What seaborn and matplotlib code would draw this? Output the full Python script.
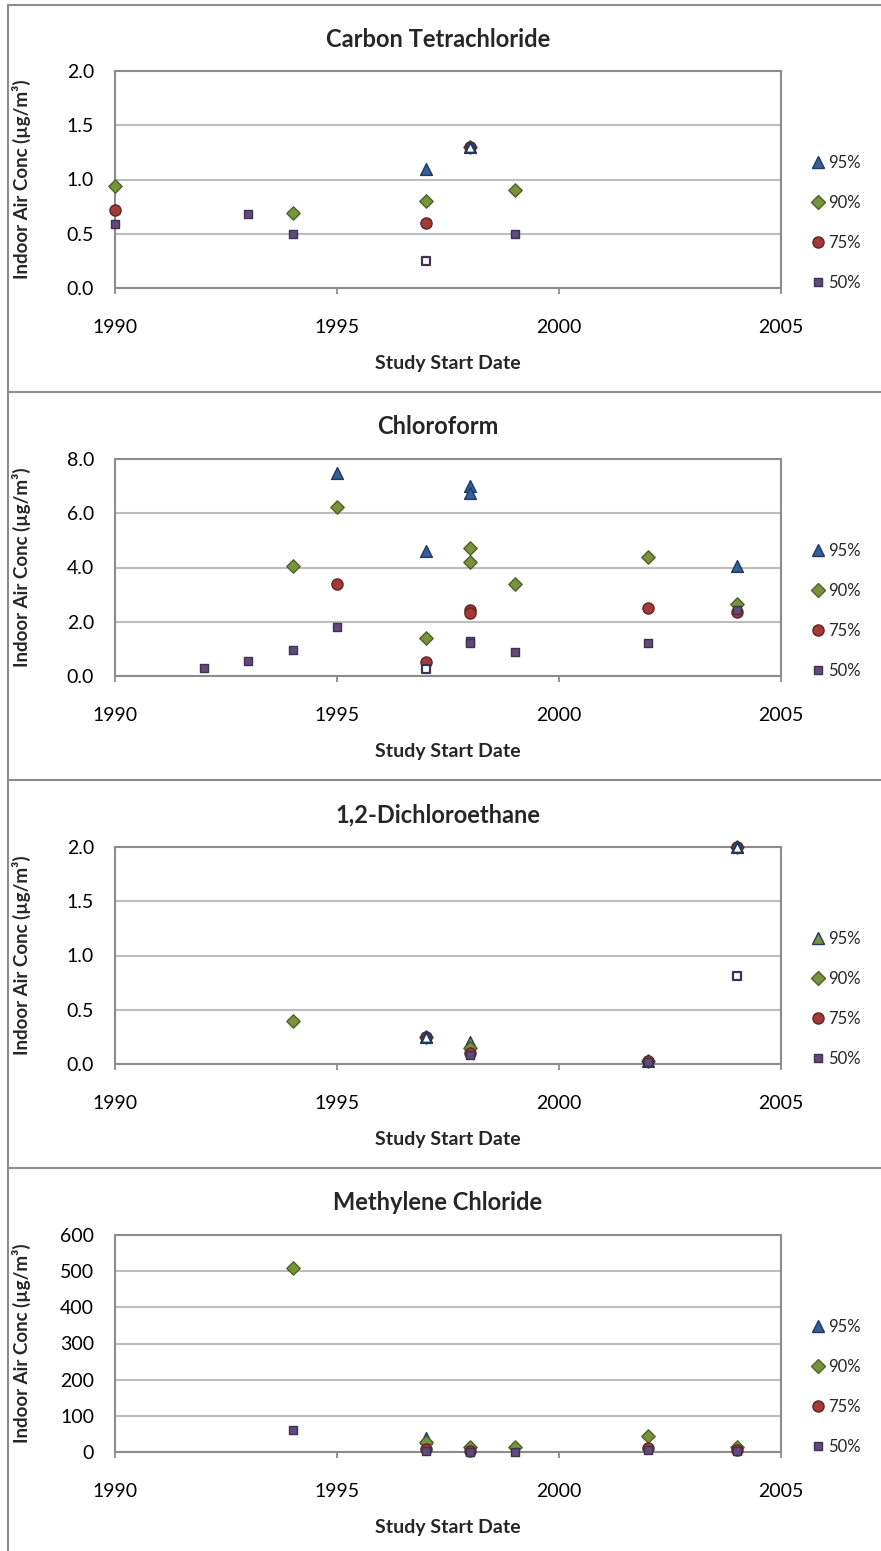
import numpy as np
import pandas as pd
import matplotlib
matplotlib.use('Agg')
import matplotlib.pyplot as plt
from matplotlib.lines import Line2D
import seaborn as sns

nan = np.nan

# Carbon Tetrachloride
ct_years = [1990, 1993, 1994, 1997, 1998, 1999]
ct_p95 = [nan, nan, nan, 1.10, 1.30, nan]
ct_p90 = [0.94, nan, 0.69, 0.80, 1.30, 0.90]
ct_p75 = [0.72, nan, nan, 0.60, 1.30, nan]
ct_p50 = [0.59, 0.68, 0.50, nan, 1.30, 0.50]
ct_open_tri = ([1998], [1.30])
ct_open_sq = ([1997], [0.25])

# Chloroform
cf_years = [1992, 1993, 1994, 1995, 1997, 1998, 1998, 1999, 2002, 2004]
cf_p95 = [nan, nan, nan, 7.50, 4.60, 7.02, 6.76, nan, nan, 4.05]
cf_p90 = [nan, nan, 4.04, 6.22, 1.41, 4.72, 4.19, 3.40, 4.40, 2.64]
cf_p75 = [nan, nan, nan, 3.40, 0.53, 2.43, 2.31, nan, 2.50, 2.37]
cf_p50 = [0.28, 0.54, 0.96, 1.82, nan, 1.30, 1.21, 0.90, 1.20, 2.43]
cf_open_tri = ([], [])
cf_open_sq = ([1997], [0.26])

# 1,2-Dichloroethane
dc_years = [1994, 1997, 1998, 2002, 2004]
dc_p95 = [nan, 0.25, 0.20, 0.03, 2.00]
dc_p90 = [0.40, 0.25, 0.15, 0.03, 2.00]
dc_p75 = [nan, 0.25, 0.10, 0.03, 2.00]
dc_p50 = [nan, 0.25, 0.08, 0.02, 2.00]
dc_open_tri = ([1997, 2004], [0.25, 2.00])
dc_open_sq = ([2004], [0.81])

# Methylene Chloride
mc_years = [1994, 1997, 1998, 1999, 2002, 2004]
mc_p95 = [nan, 38, nan, nan, nan, nan]
mc_p90 = [510, 28, 14, 14, 44, 14]
mc_p75 = [nan, 9, 3, nan, 12, 5]
mc_p50 = [60, 3, 1, 1, 5, 3]
mc_open_tri = ([], [])
mc_open_sq = ([], [])

pct_labels = ['95%', '90%', '75%', '50%']

panels = [
    ('Carbon Tetrachloride', ct_years, [ct_p95, ct_p90, ct_p75, ct_p50], ct_open_tri, ct_open_sq, 2.0, 0.5, '%.1f'),
    ('Chloroform', cf_years, [cf_p95, cf_p90, cf_p75, cf_p50], cf_open_tri, cf_open_sq, 8.0, 2.0, '%.1f'),
    ('1,2-Dichloroethane', dc_years, [dc_p95, dc_p90, dc_p75, dc_p50], dc_open_tri, dc_open_sq, 2.0, 0.5, '%.1f'),
    ('Methylene Chloride', mc_years, [mc_p95, mc_p90, mc_p75, mc_p50], mc_open_tri, mc_open_sq, 600, 100, '%d'),
]

# marker styles per percentile: marker, size(pt), face, edge
styles = [
    ('^', 8.5, '#33609A', '#1F3A60'),
    ('D', 6.8, '#77933C', '#4F6228'),
    ('o', 8.0, '#A33A36', '#632523'),
    ('s', 6.3, '#604A7B', '#3F3151'),
]

sns.set_style('white')
plt.rcParams['font.family'] = ['Lato', 'DejaVu Sans']

W, H = 881, 1551
fig = plt.figure(figsize=(W / 100, H / 100), dpi=100)

GRID = '#BDBDBD'
FRAME = '#8C8C8C'

for i, (title, years, series, open_tri, open_sq, ymax, ystep, fmt) in enumerate(panels):
    top = 71 + 388 * i
    ax = fig.add_axes([115 / W, 1 - (top + 217) / H, 666 / W, 217 / H])

    handles = []
    for j, vals in enumerate(series):
        marker, ms, face, edge = styles[j]
        if i == 2 and j == 0:
            face = '#77933C'
        df = pd.DataFrame({'year': years, 'value': vals}).dropna()
        sns.scatterplot(data=df, x='year', y='value', marker=marker, s=ms ** 2,
                        color=face, edgecolor=edge, linewidth=1.0, ax=ax,
                        clip_on=False, zorder=3 + j, legend=False)
        handles.append(Line2D([], [], linestyle='none', marker=marker, markersize=ms,
                              markerfacecolor=face, markeredgecolor=edge, markeredgewidth=1.0))

    if open_tri[0]:
        sns.scatterplot(x=open_tri[0], y=open_tri[1], marker='^', s=7.5 ** 2, color='white',
                        edgecolor='#1F3A60', linewidth=1.6, ax=ax, clip_on=False, zorder=8, legend=False)
    if open_sq[0]:
        sns.scatterplot(x=open_sq[0], y=open_sq[1], marker='s', s=5.8 ** 2, color='white',
                        edgecolor='#3F3151', linewidth=1.6, ax=ax, clip_on=False, zorder=8, legend=False)

    ax.set_xlim(1990, 2005)
    ax.set_ylim(0, ymax)
    ax.set_xticks([1990, 1995, 2000, 2005])
    ax.set_yticks(np.arange(0, ymax + ystep / 2, ystep))
    ax.yaxis.set_major_formatter(matplotlib.ticker.FormatStrFormatter(fmt))
    ax.grid(axis='y', color=GRID, linewidth=1.5, zorder=0)
    ax.set_axisbelow(True)
    for sp in ax.spines.values():
        sp.set_color(FRAME)
        sp.set_linewidth(1.5)
    ax.tick_params(axis='y', length=0, pad=15, labelsize=14, labelcolor='black')
    ax.tick_params(axis='x', length=4.5, width=1.3, color=FRAME, direction='out', pad=18,
                   labelsize=14, labelcolor='black', bottom=True)

    ax.set_xlabel('Study Start Date', fontsize=14, fontweight='bold')
    ax.set_ylabel('Indoor Air Conc (µg/m³)', fontsize=13.5, fontweight='bold')
    ax.yaxis.set_label_coords(-(115 - 31) / 666, 0.5)
    ax.xaxis.set_label_coords(0.5, -67 / 217)
    ax.text(0.485, 1 + 32 / 217, title, transform=ax.transAxes, ha='center', va='center',
            fontsize=17, fontweight='bold')

    ax.legend(handles, pct_labels, loc='center left', bbox_to_anchor=(1.045, 0.30),
              frameon=False, fontsize=12, handlelength=0.8, handletextpad=0.25,
              labelspacing=1.45, borderpad=0, borderaxespad=0)

# chart area borders
for yb in [5, 392, 780, 1168]:
    fig.add_artist(Line2D([8 / W, 1], [1 - yb / H, 1 - yb / H], color=FRAME, linewidth=1.5))
fig.add_artist(Line2D([8 / W, 8 / W], [1 - 5 / H, 0], color=FRAME, linewidth=1.5))

fig.savefig('out.png', dpi=100)
